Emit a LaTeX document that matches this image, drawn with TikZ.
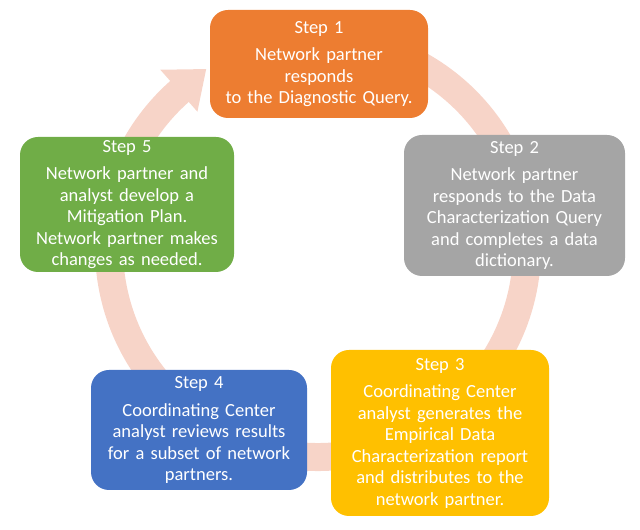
\documentclass[tikz,border=0pt]{standalone}
\usepackage{fontspec}
\setmainfont{Carlito}
\usetikzlibrary{calc}
\definecolor{orangeA}{HTML}{ED7D31}
\definecolor{grayA}{HTML}{A5A5A5}
\definecolor{goldA}{HTML}{FFC000}
\definecolor{blueA}{HTML}{4472C4}
\definecolor{greenA}{HTML}{70AD47}
\definecolor{ringA}{RGB}{247,212,200}
\begin{document}
\begin{tikzpicture}[x=1pt,y=1pt,
  stepbox/.style={rounded corners=18pt, text=white, align=center, inner sep=0pt,
    font=\fontsize{18.5}{21.5}\selectfont},
  ringline/.style={draw=ringA, line width=28pt}]
\useasboundingbox (0,0) rectangle (640,530);
\coordinate (c) at (318,282);
% ring with arrow
\draw[ringline] ($(c)+(100:209)$) arc[start angle=100, end angle=-229, radius=209];
\fill[ringA] ($(c)+(122:211)$) -- ($(c)+(131.5:238)$) -- ($(c)+(131.5:182)$) -- cycle;
% boxes
\node[stepbox, fill=orangeA, minimum width=218pt, minimum height=108pt, text width=214pt] (s1) at (319,466)
  {Step 1\\[6pt]Network partner\\responds\\to the Diagnostic Query.};
\node[stepbox, fill=grayA, minimum width=221pt, minimum height=141pt, text width=214pt] (s2) at (514.5,324.5)
  {Step 2\\[6pt]Network partner\\responds to the Data\\Characterization Query\\and completes a data\\dictionary.};
\node[stepbox, fill=goldA, minimum width=218pt, minimum height=166pt, text width=214pt] (s3) at (440,97)
  {Step 3\\[6pt]Coordinating Center\\analyst generates the\\Empirical Data\\Characterization report\\and distributes to the\\network partner.};
\node[stepbox, fill=blueA, minimum width=216pt, minimum height=120pt, text width=212pt] (s4) at (199,100)
  {Step 4\\[6pt]Coordinating Center\\analyst reviews results\\for a subset of network\\partners.};
\node[stepbox, fill=greenA, minimum width=214pt, minimum height=135pt, text width=210pt] (s5) at (127,325.5)
  {Step 5\\[6pt]Network partner and\\analyst develop a\\Mitigation Plan.\\Network partner makes\\changes as needed.};
\end{tikzpicture}
\end{document}
